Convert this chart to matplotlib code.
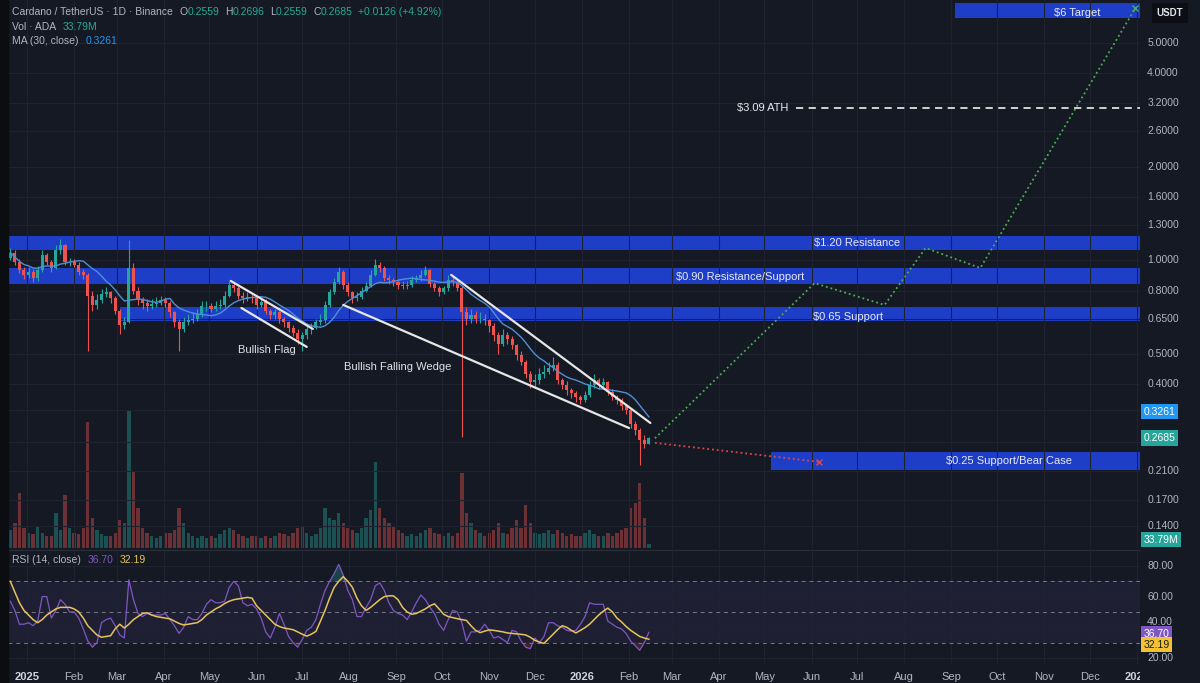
import numpy as np
import pandas as pd
import matplotlib
matplotlib.use('Agg')
import matplotlib.pyplot as plt
from matplotlib.patches import Rectangle
from matplotlib.transforms import blended_transform_factory

plt.rcParams['font.family'] = ['Liberation Sans', 'DejaVu Sans']

# ---------- colours ----------
BG = '#151924'
GRID = '#1f2330'
TXT = '#b2b5be'
UP = '#26a69a'
DOWN = '#ef5350'
BAND = '#1e3ec8'
MA_COL = '#4f8fd6'
RSI_COL = '#7e57c2'
RSI_MA_COL = '#e6c35c'
GREEN_TXT = '#22ab94'

# ---------- data (3-day candles) ----------
first_open = 1.02
closes = [1.06, 0.99, 0.93, 0.90, 0.92, 0.875, 0.93, 1.04, 0.99, 0.945,
          1.08, 1.12, 0.99, 0.99, 0.97, 0.92, 0.90, 0.77, 0.72, 0.745,
          0.78, 0.79, 0.755, 0.69, 0.62, 0.635, 0.945, 0.80, 0.745, 0.73,
          0.715, 0.725, 0.73, 0.745, 0.73, 0.68, 0.635, 0.60, 0.635, 0.643,
          0.65, 0.67, 0.715, 0.715, 0.70, 0.715, 0.72, 0.77, 0.835, 0.815,
          0.77, 0.755, 0.765, 0.755, 0.72, 0.735, 0.69, 0.665, 0.68, 0.65,
          0.635, 0.605, 0.585, 0.56, 0.575, 0.60, 0.605, 0.635, 0.643, 0.72,
          0.79, 0.85, 0.92, 0.835, 0.79, 0.755, 0.765, 0.80, 0.83, 0.90,
          0.965, 0.945, 0.875, 0.865, 0.85, 0.835, 0.83, 0.835, 0.865, 0.875,
          0.90, 0.93, 0.84, 0.815, 0.79, 0.815, 0.865, 0.85, 0.815, 0.68,
          0.65, 0.665, 0.65, 0.65, 0.643, 0.615, 0.575, 0.54, 0.575, 0.56,
          0.535, 0.495, 0.47, 0.43, 0.405, 0.412, 0.43, 0.437, 0.45, 0.46,
          0.412, 0.397, 0.383, 0.375, 0.365, 0.356, 0.37, 0.397, 0.412, 0.397,
          0.405, 0.378, 0.365, 0.356, 0.34, 0.33, 0.297, 0.285, 0.265, 0.2559, 0.2685]
highs = [1.10, 1.08, 1.01, 0.95, 0.95, 0.94, 0.96, 1.08, 1.06, 1.00,
         1.12, 1.17, 1.13, 1.02, 1.01, 0.99, 0.94, 0.91, 0.80, 0.78,
         0.81, 0.82, 0.80, 0.77, 0.70, 0.66, 1.16, 0.98, 0.82, 0.76,
         0.75, 0.75, 0.76, 0.77, 0.76, 0.74, 0.69, 0.65, 0.66, 0.67,
         0.68, 0.70, 0.74, 0.74, 0.73, 0.74, 0.75, 0.80, 0.86, 0.85,
         0.83, 0.79, 0.79, 0.78, 0.77, 0.76, 0.75, 0.70, 0.70, 0.69,
         0.66, 0.64, 0.62, 0.60, 0.59, 0.62, 0.63, 0.65, 0.67, 0.74,
         0.81, 0.88, 0.95, 0.93, 0.85, 0.80, 0.79, 0.82, 0.85, 0.93,
         1.01, 0.99, 0.96, 0.90, 0.88, 0.87, 0.86, 0.86, 0.89, 0.90,
         0.93, 0.96, 0.94, 0.85, 0.83, 0.83, 0.90, 0.89, 0.86, 0.83,
         0.71, 0.70, 0.69, 0.68, 0.67, 0.65, 0.63, 0.59, 0.60, 0.59,
         0.57, 0.54, 0.51, 0.48, 0.44, 0.43, 0.45, 0.46, 0.47, 0.49,
         0.47, 0.42, 0.41, 0.39, 0.38, 0.37, 0.38, 0.41, 0.43, 0.42,
         0.42, 0.41, 0.385, 0.37, 0.36, 0.345, 0.335, 0.305, 0.29, 0.275, 0.2696]
lows = [1.00, 0.97, 0.91, 0.87, 0.88, 0.85, 0.86, 0.92, 0.97, 0.92,
        0.94, 1.05, 0.97, 0.96, 0.95, 0.90, 0.87, 0.51, 0.69, 0.70,
        0.73, 0.76, 0.73, 0.67, 0.58, 0.60, 0.63, 0.78, 0.72, 0.70,
        0.69, 0.70, 0.71, 0.72, 0.71, 0.66, 0.61, 0.51, 0.59, 0.62,
        0.63, 0.64, 0.66, 0.69, 0.68, 0.69, 0.70, 0.71, 0.76, 0.79,
        0.75, 0.73, 0.74, 0.73, 0.70, 0.71, 0.67, 0.65, 0.65, 0.63,
        0.61, 0.59, 0.57, 0.54, 0.51, 0.56, 0.58, 0.60, 0.62, 0.63,
        0.71, 0.78, 0.84, 0.81, 0.77, 0.73, 0.74, 0.75, 0.79, 0.82,
        0.89, 0.92, 0.86, 0.84, 0.83, 0.81, 0.81, 0.81, 0.82, 0.85,
        0.86, 0.89, 0.82, 0.80, 0.77, 0.78, 0.80, 0.83, 0.80, 0.27,
        0.62, 0.63, 0.63, 0.63, 0.62, 0.59, 0.55, 0.50, 0.53, 0.54,
        0.52, 0.48, 0.46, 0.42, 0.39, 0.39, 0.40, 0.42, 0.43, 0.44,
        0.40, 0.385, 0.37, 0.36, 0.35, 0.345, 0.35, 0.365, 0.39, 0.385,
        0.39, 0.37, 0.355, 0.345, 0.33, 0.32, 0.29, 0.275, 0.22, 0.25, 0.2559]
volumes = [144, 200, 440, 160, 120, 112, 176, 120, 96, 96,
           280, 144, 424, 160, 120, 112, 160, 1008, 240, 144,
           112, 96, 96, 120, 224, 200, 1104, 608, 320, 160,
           120, 96, 80, 96, 120, 120, 144, 320, 200, 120,
           96, 80, 96, 80, 96, 80, 112, 144, 160, 144,
           112, 96, 80, 96, 96, 80, 96, 80, 96, 120,
           112, 96, 120, 160, 176, 120, 96, 112, 160, 320,
           240, 224, 280, 200, 160, 144, 120, 160, 240, 304,
           688, 320, 240, 200, 176, 144, 120, 96, 112, 96,
           120, 144, 160, 120, 112, 96, 120, 96, 120, 600,
           280, 200, 144, 120, 96, 120, 144, 200, 120, 112,
           160, 224, 160, 344, 200, 120, 112, 120, 144, 112,
           144, 120, 96, 112, 96, 96, 120, 144, 112, 96,
           96, 120, 96, 120, 144, 160, 320, 360, 520, 240, 33.79]
rsi = [57, 51, 42, 42, 43, 41, 44, 60, 60, 46,
       51, 58, 55, 50, 50, 46, 39, 31, 27, 30,
       43, 45, 46, 41, 35, 33, 71, 58, 49, 47,
       49, 48, 48, 48, 49, 45, 41, 36, 40, 47,
       45, 45, 49, 55, 58, 56, 56, 57, 66, 70,
       67, 56, 54, 55, 52, 46, 37, 33, 40, 49,
       42, 34, 30, 27, 32, 38, 40, 45, 55, 64,
       70, 75, 81, 74, 64, 58, 47, 47, 53, 58,
       67, 69, 64, 56, 51, 49, 48, 45, 50, 56,
       61, 58, 53, 49, 42, 38, 45, 51, 50, 43,
       31, 37, 37, 38, 42, 38, 33, 34, 32, 30,
       38, 37, 31, 27, 26, 33, 30, 34, 43, 43,
       41, 40, 38, 37.5, 38, 42, 47, 56, 55, 55,
       55, 44, 42, 40, 39, 36, 31, 28, 25, 30, 36.70]
rsi_ma = [70, 63, 56, 51, 48, 45, 43, 45, 48, 50,
          52, 53, 53, 53, 52, 50, 46, 41, 38, 35,
          33.5, 34, 34.5, 39, 42, 39.5, 42, 45, 47, 49,
          49.5, 48, 47, 46.5, 46, 45.5, 44, 42.5, 41.5, 42,
          42.5, 43, 45, 48, 50, 52, 53.5, 55.5, 57, 58,
          58.5, 59, 59.5, 59, 54, 51, 48, 45, 42, 40.5,
          39.5, 39, 38.4, 37, 35.5, 34.2, 35.5, 37.3, 44, 51,
          59, 66, 70, 73, 70, 66, 59, 54, 51, 53,
          55.5, 58, 60, 60.5, 60.5, 58, 53, 50, 48.5, 49,
          50.5, 52, 54, 55.3, 52, 48.5, 47, 46.3, 45.6, 45,
          44.5, 41, 38, 36.5, 37.5, 38.3, 38, 37.5, 37, 36.3,
          36, 35.7, 35.4, 35, 33.5, 31.5, 30.3, 29.5, 32.5, 35.5,
          38.5, 41, 40, 38, 36.3, 38, 39.8, 42, 45, 48,
          50.5, 52.5, 50, 46, 43.5, 40.5, 38, 36, 34, 33, 32.19]

last_ohlc = {'O': '0.2559', 'H': '0.2696', 'L': '0.2559', 'C': '0.2685'}
last_change = '+0.0126 (+4.92%)'
ma_last = 0.3261

# grid levels of the price scale; the labelled ones are those not hidden by the value tags
price_grid = [5.0, 4.0, 3.2, 2.6, 2.0, 1.6, 1.3, 1.0, 0.8, 0.65, 0.5, 0.4, 0.33, 0.26, 0.21, 0.17, 0.14]
price_ticks = [5.0, 4.0, 3.2, 2.6, 2.0, 1.6, 1.3, 1.0, 0.8, 0.65, 0.5, 0.4, 0.21, 0.17, 0.14]
rsi_ticks = [80, 60, 40, 20]

# horizontal zones: (low, high, start date)
zones = [(1.08, 1.20, '2024-12-01'), (0.84, 0.945, '2024-12-01'),
         (0.64, 0.71, '2025-03-03'), (0.212, 0.242, '2026-05-05'),
         (6.0, 6.7, '2026-09-03')]
zone_labels = [('$1.20 Resistance', '2026-07-01', 1.14),
               ('$0.90 Resistance/Support', '2026-04-15', 0.885),
               ('$0.65 Support', '2026-06-25', 0.658),
               ('$0.25 Support/Bear Case', '2026-10-09', 0.2265),
               ('$6 Target', '2026-11-23', 6.25)]
ath_price = 3.09
ath_start = '2026-05-22'

bull_dates = ['2026-02-18', '2026-06-03', '2026-07-19', '2026-08-15', '2026-09-20', '2026-12-31']
bull_prices = [0.268, 0.845, 0.719, 1.096, 0.945, 6.48]
bear_dates = ['2026-02-18', '2026-06-06']
bear_prices = [0.259, 0.225]

flag_upper = (['2025-05-15', '2025-07-08'], [0.859, 0.602])
flag_lower = (['2025-05-22', '2025-07-04'], [0.703, 0.527])
wedge_upper = (['2025-10-07', '2026-02-15'], [0.898, 0.300])
wedge_lower = (['2025-07-28', '2026-02-01'], [0.719, 0.289])
pattern_labels = [('Bullish Flag', '2025-06-08', 0.515),
                  ('Bullish Falling Wedge', '2025-09-02', 0.454)]

# ---------- derived ----------
dates = pd.date_range('2024-12-21', periods=len(closes), freq='3D')
c = np.array(closes)
o = np.array([first_open] + closes[:-1])
h = np.array(highs)
l = np.array(lows)
up = c >= o
cols = np.where(up, UP, DOWN)
ma30 = pd.Series(closes).rolling(10, min_periods=1).mean()
x0, x1 = pd.Timestamp('2024-12-19 12:00'), pd.Timestamp('2027-01-03')
far_right = pd.Timestamp('2027-02-01')
months = pd.date_range('2025-01-01', '2027-01-01', freq='MS')
month_labels = [str(m.year) if m.month == 1 else m.strftime('%b') for m in months]

# ---------- figure ----------
W, H = 1200, 683
fig = plt.figure(figsize=(12, 6.83), dpi=100, facecolor=BG)
ax = fig.add_axes([8 / W, 1 - 548 / H, 1132 / W, 548 / H])
ax_vol = ax.twinx()
ax.set_zorder(ax_vol.get_zorder() + 1)
ax.patch.set_visible(False)
ax_vol.set_facecolor(BG)
ax_rsi = fig.add_axes([8 / W, 1 - 665 / H, 1132 / W, 115 / H], facecolor=BG)

for a in (ax, ax_vol, ax_rsi):
    for s in a.spines.values():
        s.set_visible(False)
ax_rsi.spines['top'].set_visible(True)
ax_rsi.spines['top'].set_color('#2a2e39')

# price pane
ax.set_yscale('log')
ax.set_ylim(0.1189, 6.875)
ax.set_xlim(x0, x1)
ax.set_yticks(price_grid)
ax.minorticks_off()
ax.set_xticks(months)
ax.tick_params(length=0, labelleft=False, labelright=False, labelbottom=False)
ax.grid(True, color=GRID, lw=0.8)

for lo, hi, start in zones:
    ax.fill_between([pd.Timestamp(start), far_right], lo, hi, color=BAND, lw=0, zorder=1)
for txt, d, p in zone_labels:
    ax.text(pd.Timestamp(d), p, txt, color='#e8eaf0', fontsize=8, ha='center', va='center', zorder=6)

ax.hlines(ath_price, pd.Timestamp(ath_start), far_right, color='#e0e0e0', lw=1.3,
          linestyles=(0, (4, 3)), zorder=4)
ax.annotate('$3.09 ATH', xy=(pd.Timestamp(ath_start), ath_price), xytext=(-6, 0),
            textcoords='offset points', ha='right', va='center', color='#e8eaf0', fontsize=8)

# candles
ax.vlines(dates, l, h, colors=cols, lw=0.8, zorder=3)
ax.bar(dates, np.abs(c - o), bottom=np.minimum(o, c), width=2.0, color=cols, lw=0, zorder=3)
ax.plot(dates, ma30, color=MA_COL, lw=1.0, zorder=4)

# pattern lines
for xs, ys in (flag_upper, flag_lower, wedge_upper, wedge_lower):
    ax.plot(pd.to_datetime(xs), ys, color='#e6e6e6', lw=1.6, zorder=5, solid_capstyle='round')
for txt, d, p in pattern_labels:
    ax.text(pd.Timestamp(d), p, txt, color='#e0e2e8', fontsize=8, ha='center', va='center', zorder=6)

# scenario projections
ax.plot(pd.to_datetime(bull_dates), bull_prices, ls=':', color='#4caf50', lw=1.3, zorder=5)
ax.plot(pd.to_datetime(bull_dates[-1:]), bull_prices[-1:], marker='x', color='#4caf50', ms=4, zorder=5)
ax.plot(pd.to_datetime(bear_dates), bear_prices, ls=':', color='#e04848', lw=1.3, zorder=5)
ax.plot(pd.to_datetime(bear_dates[-1:]), bear_prices[-1:], marker='x', color='#e04848', ms=4, zorder=5)

# volume overlay
ax_vol.bar(dates, volumes, width=2.2, color=cols, alpha=0.4, lw=0)
ax_vol.set_ylim(0, 4384)
ax_vol.set_yticks([])
ax_vol.set_xlim(x0, x1)

# rsi pane
ax_rsi.set_xlim(x0, x1)
ax_rsi.set_ylim(15.4, 90.4)
ax_rsi.axhspan(30, 70, color=RSI_COL, alpha=0.1, lw=0)
for lvl in (70, 50, 30):
    ax_rsi.axhline(lvl, color='#787b86', lw=0.7, ls=(0, (4, 4)))
r = np.array(rsi)
ax_rsi.fill_between(dates, 70, r, where=r > 70, interpolate=True, color=UP, alpha=0.3, lw=0)
ax_rsi.fill_between(dates, 30, r, where=r < 30, interpolate=True, color=DOWN, alpha=0.2, lw=0)
ax_rsi.plot(dates, rsi, color=RSI_COL, lw=0.9)
ax_rsi.plot(dates, rsi_ma, color=RSI_MA_COL, lw=1.1)
ax_rsi.set_yticks(rsi_ticks)
ax_rsi.set_xticks(months)
ax_rsi.set_xticklabels(month_labels)
ax_rsi.grid(True, color=GRID, lw=0.8)
ax_rsi.tick_params(length=0, labelleft=False, labelsize=8, colors=TXT, pad=5)
for lab, m in zip(ax_rsi.get_xticklabels(), months):
    if m.month == 1:
        lab.set_fontweight('bold')
        lab.set_color('#d1d4dc')

# right price scale column
axr = fig.add_axes([1140 / W, 0, 60 / W, 1], facecolor=BG)
axr.set_zorder(10)
axr.set_xticks([])
axr.set_yticks([])
for s in axr.spines.values():
    s.set_visible(False)
tp = blended_transform_factory(axr.transAxes, ax.transData)
tv = blended_transform_factory(axr.transAxes, ax_vol.transData)
trs = blended_transform_factory(axr.transAxes, ax_rsi.transData)
for v in price_ticks:
    axr.text(0.12, v, f'{v:.4f}', transform=tp, color=TXT, fontsize=7.5, va='center')
for v in rsi_ticks:
    # the 40 label sits just above the RSI value tag
    axr.text(0.12, v, f'{v:.2f}', transform=trs, color=TXT, fontsize=7.5,
             va='bottom' if v == 40 else 'center')


def tag(y, text, tr, fc, tc='white', dy=0):
    axr.annotate(text, xy=(0.06, y), xycoords=tr, xytext=(0, dy), textcoords='offset points',
                 color=tc, fontsize=7.5, va='center', ha='left', zorder=5,
                 bbox=dict(boxstyle='square,pad=0.25', fc=fc, ec='none'))


tag(ma_last, f'{ma_last:.4f}', tp, '#2196f3')
tag(closes[-1], f'{closes[-1]:.4f}', tp, UP)
tag(volumes[-1], '33.79M', tv, UP, dy=3)
tag(rsi[-1], f'{rsi[-1]:.2f}', trs, RSI_COL, dy=-1)
tag(rsi_ma[-1], f'{rsi_ma[-1]:.2f}', trs, '#f2c230', tc='#1a1a1a', dy=-4)
axr.text(0.5, 1 - 13 / H, 'USDT', transform=axr.transAxes, color='#e0e3eb', fontsize=7,
         fontweight='bold', ha='center', va='center',
         bbox=dict(boxstyle='square,pad=0.5', fc='#0c0e14', ec='none'))

# left dark strip
fig.patches.append(Rectangle((0, 0), 8 / W, 1, transform=fig.transFigure,
                             color='#0c0d11', zorder=20))


# header legends: (text, colour, gap before it in points)
def chain(y_px, parts, fs=7.5):
    t = ax.text(12 / W, 1 - y_px / H, parts[0][0], color=parts[0][1], fontsize=fs,
                transform=fig.transFigure, va='center', ha='left')
    for s, col, gap in parts[1:]:
        t = ax.annotate(s, xy=(1, 0.5), xycoords=t, xytext=(gap, 0), textcoords='offset points',
                        color=col, fontsize=fs, va='center', ha='left')


chain(12, [('Cardano / TetherUS · 1D · Binance', TXT),
           ('O', TXT, 5), (last_ohlc['O'], GREEN_TXT, 0),
           ('H', TXT, 4), (last_ohlc['H'], GREEN_TXT, 0),
           ('L', TXT, 4), (last_ohlc['L'], GREEN_TXT, 0),
           ('C', TXT, 4), (last_ohlc['C'], GREEN_TXT, 0),
           (last_change, GREEN_TXT, 4)])
chain(27, [('Vol · ADA', TXT), ('33.79M', GREEN_TXT, 5)])
chain(41, [('MA (30, close)', TXT), (f'{ma_last:.4f}', '#2196f3', 5)])
chain(560, [('RSI (14, close)', TXT), (f'{rsi[-1]:.2f}', RSI_COL, 5),
            (f'{rsi_ma[-1]:.2f}', RSI_MA_COL, 4)])

fig.savefig('out.png', dpi=100, facecolor=BG)
